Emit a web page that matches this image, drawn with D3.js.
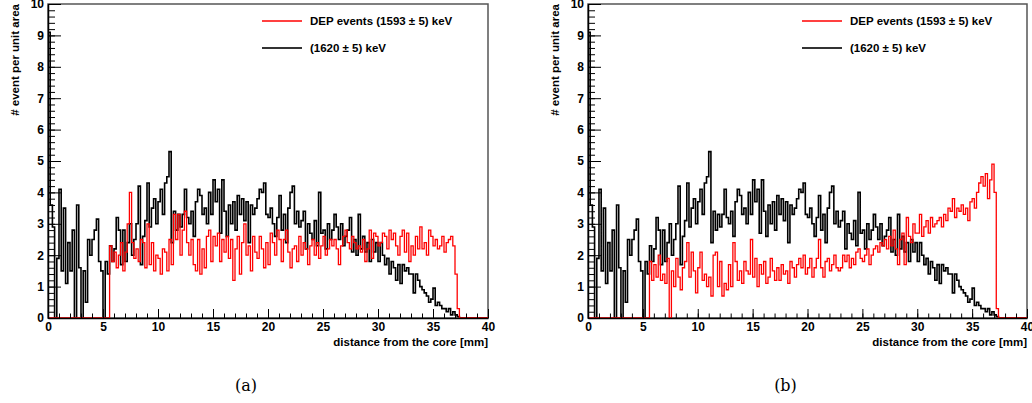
<!DOCTYPE html>
<html>
<head>
<meta charset="utf-8">
<script src="https://cdn.jsdelivr.net/npm/d3@7"></script>
<style>
  body { margin: 0; background: #fff; }
  svg { display: block; }
  .tick text { font-family: "Liberation Sans", Arial, sans-serif; font-weight: bold; font-size: 12px; fill: #000; }
  .lbl { font-family: "Liberation Sans", Arial, sans-serif; font-weight: bold; font-size: 11.5px; fill: #000; }
  .cap { font-family: "DejaVu Serif", "Liberation Serif", serif; font-size: 16px; fill: #000; }
</style>
</head>
<body>
<svg id="chart" width="1032" height="403"></svg>
<script>
// histogram bin contents, 0.2 mm bins from 0 to 40 mm
var binWidth = 0.2

// (1620 +- 5) keV events, same in both panels
var black = [
  9.1, 3.6, 2.9, 0, 1.9, 4.1, 1.5, 3.5, 1.1, 2.4,
  1.5, 2.8, 0, 3.6, 1.6, 0, 1.5, 0.5, 2.5, 2.0,
  2.5, 2.8, 3.15, 1.8, 1.5, 0, 1.8, 1.4, 2.3, 1.8,
  2.2, 3.2, 2.8, 1.7, 2.8, 1.8, 2.4, 3.0, 2.0, 2.5,
  3.0, 4.2, 1.7, 2.6, 3.1, 4.3, 2.9, 3.5, 3.8, 3.0,
  3.7, 4.1, 3.3, 4.3, 4.5, 5.3, 2.4, 3.4, 2.8, 3.3,
  2.9, 3.3, 4.1, 3.2, 3.0, 3.4, 2.6, 3.7, 4.1, 3.9,
  3.3, 3.5, 3.0, 4.0, 3.3, 4.4, 3.7, 4.1, 2.7, 4.4,
  3.4, 2.6, 3.6, 3.0, 3.7, 2.8, 3.9, 3.3, 3.8, 3.1,
  3.7, 2.4, 3.6, 3.3, 3.5, 3.8, 4.1, 4.0, 4.3, 3.3,
  3.2, 3.5, 3.0, 2.6, 3.2, 3.9, 2.8, 3.3, 2.4, 3.5,
  4.0, 4.2, 3.0, 3.4, 2.9, 3.1, 3.4, 2.2, 3.0, 2.7,
  2.5, 3.1, 2.3, 4.0, 2.7, 2.8, 2.2, 3.0, 2.5, 2.8,
  3.3, 2.9, 2.5, 3.0, 2.3, 2.6, 2.8, 3.2, 2.1, 2.5,
  2.0, 3.3, 2.2, 2.6, 2.1, 2.4, 1.8, 2.5, 2.1, 2.4,
  1.8, 2.4, 2.0, 1.7, 1.9, 1.4, 1.8, 1.6, 1.2, 1.7,
  1.1, 1.7, 1.5, 1.6, 1.4, 1.4, 0.8, 1.4, 1.2, 1.0,
  0.9, 0.8, 0.7, 0.5, 0.6, 0.95, 0.4, 0.5, 0.4, 0.3,
  0.3, 0.2, 0.3, 0.1, 0.2, 0.1, 0.05, 0, 0, 0,
  0, 0, 0, 0, 0, 0, 0, 0, 0, 0
]

// DEP events, panel (a)
var redA = [
  0, 0, 0, 0, 0, 0, 0, 0, 0, 0,
  0, 0, 0, 0, 0, 0, 0, 0, 0, 0,
  0, 0, 0, 0, 0, 0, 0, 0, 2.3, 1.8,
  2.1, 1.6, 2.0, 2.4, 1.5, 2.1, 3.0, 4.0, 2.4, 1.9,
  2.2, 1.8, 2.5, 2.4, 1.6, 3.0, 1.7, 2.4, 1.5, 2.0,
  1.9, 1.4, 2.2, 2.1, 1.5, 2.5, 1.7, 3.3, 2.5, 3.3,
  2.0, 2.8, 3.4, 2.4, 2.0, 2.5, 1.7, 1.5, 2.5, 1.4,
  2.2, 1.6, 2.6, 2.8, 1.8, 2.6, 2.3, 2.7, 1.8, 2.5,
  2.1, 2.6, 1.9, 2.5, 1.2, 2.2, 2.6, 1.4, 2.4, 3.0,
  2.0, 2.3, 1.5, 2.6, 2.1, 1.9, 2.6, 2.2, 1.6, 2.4,
  1.7, 2.7, 2.4, 2.0, 2.8, 2.5, 1.8, 2.5, 2.8, 2.1,
  1.6, 2.2, 2.3, 1.8, 2.6, 2.0, 2.4, 2.2, 1.7, 2.3,
  2.5, 2.0, 2.4, 1.9, 2.3, 2.6, 2.0, 2.2, 2.5, 2.3,
  2.5, 2.2, 1.7, 2.3, 2.6, 2.8, 2.4, 2.2, 2.6, 2.4,
  2.2, 2.3, 2.1, 2.5, 1.8, 2.2, 2.8, 1.9, 2.7, 2.6,
  2.3, 2.4, 2.7, 2.6, 2.2, 2.8, 2.5, 2.7, 2.3, 2.0,
  2.6, 2.8, 2.1, 2.7, 1.8, 2.3, 2.0, 2.6, 2.2, 2.9,
  2.2, 2.4, 2.0, 2.8, 2.6, 2.3, 2.5, 2.2, 2.3, 2.6,
  2.1, 2.4, 2.5, 2.6, 2.3, 1.4, 0.3, 0, 0, 0,
  0, 0, 0, 0, 0, 0, 0, 0, 0, 0
]

// DEP events, panel (b)
var redB = [
  0, 0, 0, 0, 0, 0, 0, 0, 0, 0,
  0, 0, 0, 0, 0, 0, 0, 0, 0, 0,
  0, 0, 0, 0, 0, 0, 0, 0, 1.8, 1.2,
  1.7, 1.3, 2.0, 1.2, 1.4, 1.1, 1.9, 0, 1.5, 1.0,
  1.9, 1.3, 0.9, 1.6, 1.8, 2.4, 1.3, 2.1, 1.5, 0.8,
  1.6, 2.1, 1.2, 1.4, 1.0, 1.3, 0.7, 2.0, 2.1, 1.0,
  1.8, 0.7, 1.1, 0.9, 1.7, 1.0, 2.4, 1.8, 1.2, 1.5,
  1.1, 1.8, 1.5, 1.4, 2.5, 1.3, 1.9, 1.0, 1.7, 1.4,
  1.8, 1.1, 1.3, 1.9, 1.5, 1.2, 1.6, 1.2, 1.7, 1.4,
  1.5, 1.1, 1.8, 1.6, 1.3, 1.7, 1.9, 1.6, 2.0, 1.4,
  1.6, 1.9, 1.3, 1.6, 1.9, 2.5, 1.6, 1.3, 1.8, 1.9,
  1.5, 1.7, 2.0, 1.6, 1.5, 1.6, 2.0, 1.8, 2.0, 1.6,
  1.9, 1.7, 2.1, 2.2, 1.9, 1.8, 2.0, 2.2, 1.7, 2.0,
  2.2, 2.3, 2.1, 2.4, 2.3, 2.5, 2.2, 2.6, 2.3, 2.8,
  2.2, 1.7, 2.5, 2.7, 1.7, 3.2, 2.6, 2.4, 3.0, 2.7,
  2.7, 3.3, 2.6, 2.9, 3.1, 2.7, 3.2, 2.9, 3.0, 3.1,
  3.2, 2.9, 3.3, 3.1, 3.5, 3.4, 3.8, 3.2, 3.5, 3.4,
  3.6, 3.3, 3.5, 3.1, 3.7, 3.8, 3.5, 4.0, 4.3, 4.5,
  4.2, 4.6, 3.8, 4.4, 4.9, 4.0, 0.3, 0, 0, 0,
  0, 0, 0, 0, 0, 0, 0, 0, 0, 0
]

var xTicks = [0, 5, 10, 15, 20, 25, 30, 35, 40]
var yTicks = [0, 1, 2, 3, 4, 5, 6, 7, 8, 9, 10]
var legendNames = ["DEP events (1593 \u00b1 5) keV", "(1620 \u00b1 5) keV"]
var captions = ["(a)", "(b)"]

var svg = d3.select("#chart")
var plotTop = 4, plotBottom = 318

var panels = [
  {left: 48, right: 488, red: redA, cap: captions[0]},
  {left: 588, right: 1027, red: redB, cap: captions[1]}
]

function toPoints(vals) {
  var pts = vals.map((v, i) => [i * binWidth, v])
  pts.push([vals.length * binWidth, vals[vals.length - 1]])
  return pts
}

panels.forEach(function(p, k) {
  var x = d3.scaleLinear().domain([0, 40]).range([p.left, p.right])
  var y = d3.scaleLinear().domain([0, 10]).range([plotBottom, plotTop])
  var g = svg.append("g")

  g.append("clipPath").attr("id", "clip" + k)
    .append("rect")
    .attr("x", p.left).attr("y", plotTop - 1)
    .attr("width", p.right - p.left).attr("height", plotBottom - plotTop + 1)

  // frame
  g.append("rect")
    .attr("x", p.left).attr("y", plotTop)
    .attr("width", p.right - p.left).attr("height", plotBottom - plotTop)
    .style("fill", "none").style("stroke", "#555").style("stroke-width", 1.5)

  var line = d3.line()
    .x(d => x(d[0]))
    .y(d => y(d[1]))
    .curve(d3.curveStepAfter)

  g.append("path")
    .attr("d", line(toPoints(black)))
    .attr("clip-path", "url(#clip" + k + ")")
    .style("fill", "none").style("stroke", "#000").style("stroke-width", 1.6)

  g.append("path")
    .attr("d", line(toPoints(p.red)))
    .attr("clip-path", "url(#clip" + k + ")")
    .style("fill", "none").style("stroke", "#f00").style("stroke-width", 1.3)

  // minor ticks
  g.append("g")
    .attr("transform", "translate(" + p.left + ",0)")
    .call(d3.axisLeft(y).tickValues(d3.range(0, 10.01, 0.2)).tickSize(-7).tickFormat(""))
    .call(a => a.select(".domain").remove())
  g.append("g")
    .attr("transform", "translate(0," + plotBottom + ")")
    .call(d3.axisBottom(x).tickValues(d3.range(0, 40.01, 1)).tickSize(-4.5).tickFormat(""))
    .call(a => a.select(".domain").remove())

  // major ticks + labels
  g.append("g")
    .attr("transform", "translate(" + p.left + ",0)")
    .call(d3.axisLeft(y).tickValues(yTicks).tickSizeInner(-13).tickSizeOuter(0).tickPadding(4))
  g.append("g")
    .attr("transform", "translate(0," + plotBottom + ")")
    .call(d3.axisBottom(x).tickValues(xTicks).tickSizeInner(-9).tickSizeOuter(0).tickPadding(4))

  g.selectAll(".domain").style("stroke", "#000").style("stroke-width", 1.5)
  g.selectAll(".tick line").style("stroke", "#000")

  // axis titles
  g.append("text")
    .attr("class", "lbl")
    .attr("transform", "translate(" + (p.left - 29) + "," + plotTop + ") rotate(-90)")
    .attr("text-anchor", "end")
    .text("# event per unit area")
  g.append("text")
    .attr("class", "lbl")
    .attr("x", p.right).attr("y", 346)
    .attr("text-anchor", "end")
    .text("distance from the core [mm]")

  // legend
  var colors = ["#f00", "#333"]
  var widths = [1.3, 2]
  legendNames.forEach(function(name, j) {
    var ly = 21 + j * 27
    g.append("line")
      .attr("x1", p.left + 214).attr("x2", p.left + 254)
      .attr("y1", ly).attr("y2", ly)
      .style("stroke", colors[j]).style("stroke-width", widths[j])
    g.append("text")
      .attr("class", "lbl")
      .attr("x", p.left + 262).attr("y", ly + 4)
      .text(name)
  })

  // sub-figure caption
  g.append("text")
    .attr("class", "cap")
    .attr("x", (p.left + p.right) / 2 - 22).attr("y", 391)
    .attr("text-anchor", "middle")
    .text(p.cap)
})
</script>
</body>
</html>
